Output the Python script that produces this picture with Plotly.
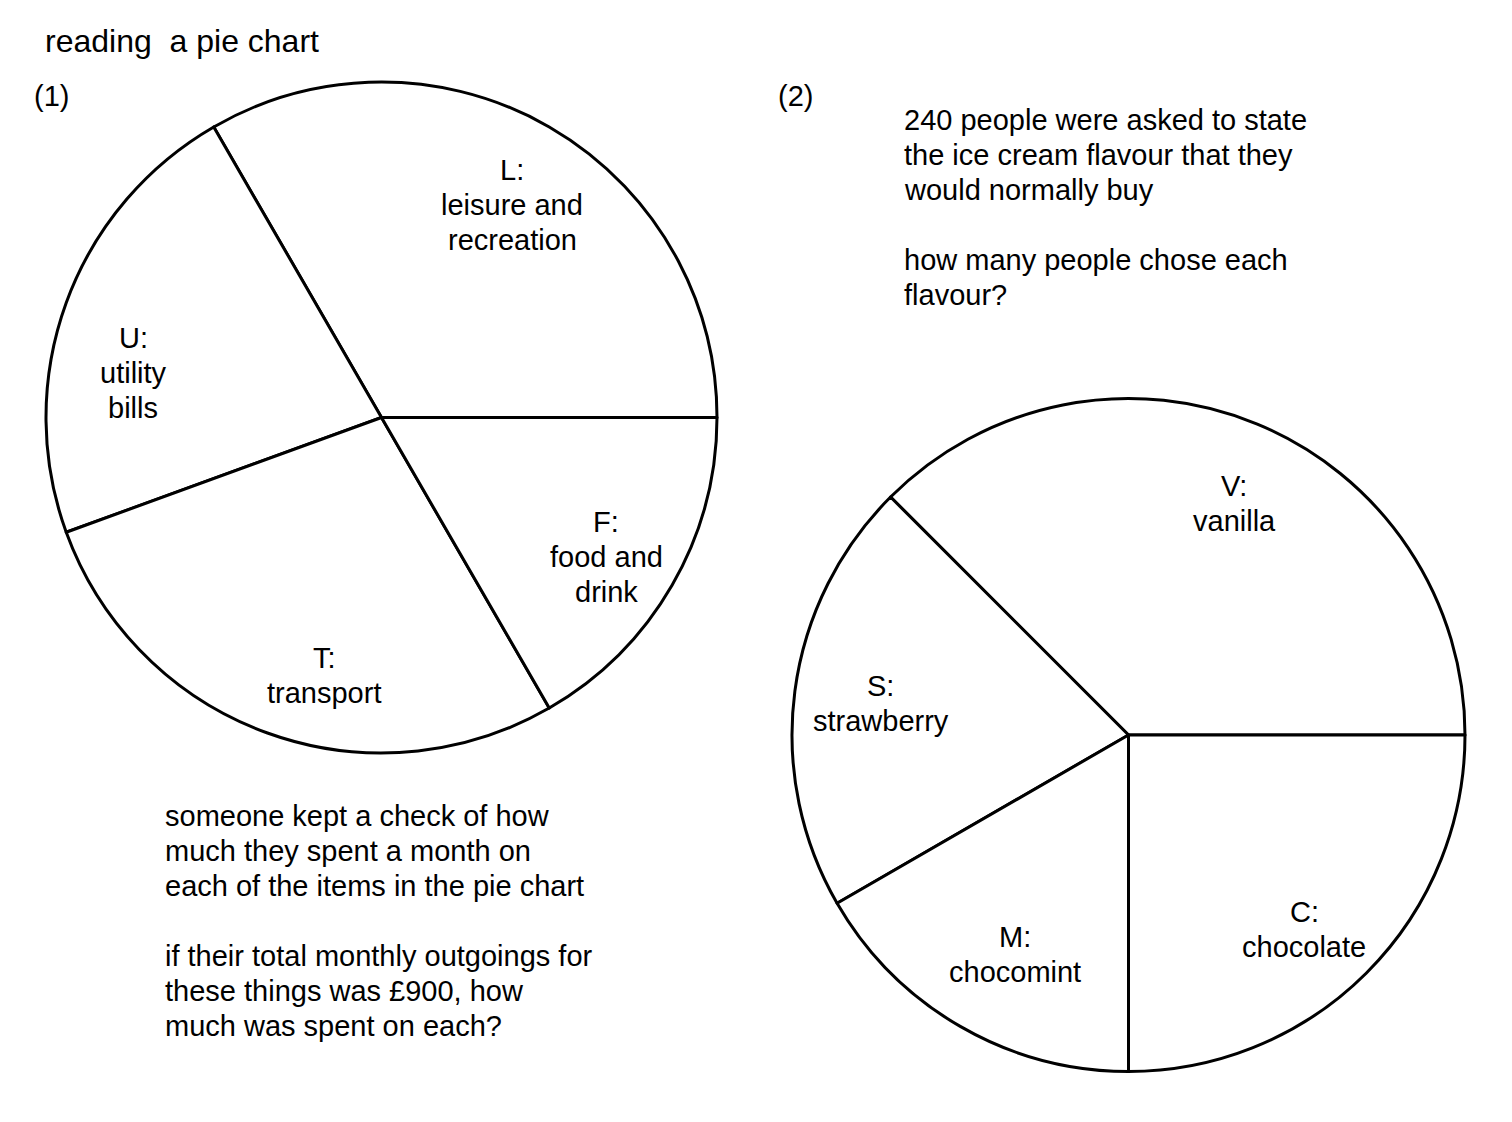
import plotly.graph_objects as go

W, H = 1512, 1122
OFF = 8  # page body margin of the browser
FONT = "Liberation Sans, Arial, sans-serif"
FS = 29
LS = 35  # line spacing in px

# ---- data ----
pie1_keys = ["L", "U", "T", "F"]
pie1_values = [300, 200, 250, 150]  # £ per month (total 900)
pie1_lines = [["L:", "leisure and", "recreation"],
              ["U:", "utility", "bills"],
              ["T:", "transport"],
              ["F:", "food and", "drink"]]

pie2_keys = ["V", "S", "M", "C"]
pie2_values = [90, 50, 40, 60]  # people (total 240)
pie2_lines = [["V:", "vanilla"],
              ["S:", "strawberry"],
              ["M:", "chocomint"],
              ["C:", "chocolate"]]

title_text = "reading  a pie chart"
q1_lines = ["someone kept a check of how",
            "much they spent a month on",
            "each of the items in the pie chart",
            "",
            "if their total monthly outgoings for",
            "these things was £900, how",
            "much was spent on each?"]
q2_lines = ["240 people were asked to state",
            "the ice cream flavour that they",
            "would normally buy",
            "",
            "how many people chose each",
            "flavour?"]

# ---- layout helpers ----
def px(x):
    return (x - OFF) / W

def py(y):
    return 1 - (y - OFF) / H

fig = go.Figure()

def add_pie(keys, values, x0, x1, y0, y1):
    # first slice starts at 3 o'clock and runs counter-clockwise
    first_deg = 360.0 * values[0] / sum(values)
    fig.add_trace(go.Pie(
        labels=keys, values=values, sort=False,
        direction="counterclockwise", rotation=90 - first_deg,
        textinfo="none", hoverinfo="skip",
        marker=dict(colors=["white"] * len(values),
                    line=dict(color="black", width=3)),
        domain=dict(x=[px(x0), px(x1)], y=[py(y1), py(y0)]),
        showlegend=False,
    ))

add_pie(pie1_keys, pie1_values, 45, 718, 82, 753)
add_pie(pie2_keys, pie2_values, 792, 1465, 398, 1072)

annotations = []

def add_block(lines, x, y_first, xanchor="center", size=FS):
    for i, line in enumerate(lines):
        if not line:
            continue
        annotations.append(dict(
            text=line, x=px(x), y=py(y_first + i * LS),
            xref="paper", yref="paper", xanchor=xanchor, yanchor="middle",
            showarrow=False, font=dict(family=FONT, size=size, color="black"),
        ))

# pie 1 labels
pie1_label_pos = [(512, 170), (133, 338), (324, 658), (606, 522)]
for lines, (lx, ly) in zip(pie1_lines, pie1_label_pos):
    add_block(lines, lx, ly)

# pie 2 labels
pie2_label_pos = [(1234, 486), (881, 686), (1015, 937), (1304, 912)]
for lines, (lx, ly) in zip(pie2_lines, pie2_label_pos):
    add_block(lines, lx, ly)

add_block([title_text], 43, 41, xanchor="left", size=32)
add_block(["(1)"], 32, 96, xanchor="left")
add_block(["(2)"], 776, 96, xanchor="left")
add_block(q1_lines, 163, 816, xanchor="left")
add_block(q2_lines, 902, 120, xanchor="left")

fig.update_layout(
    width=W, height=H,
    margin=dict(l=0, r=0, t=0, b=0),
    paper_bgcolor="white", plot_bgcolor="white",
    annotations=annotations,
    showlegend=False,
)

fig.write_html("out.html", config={"displayModeBar": False})
